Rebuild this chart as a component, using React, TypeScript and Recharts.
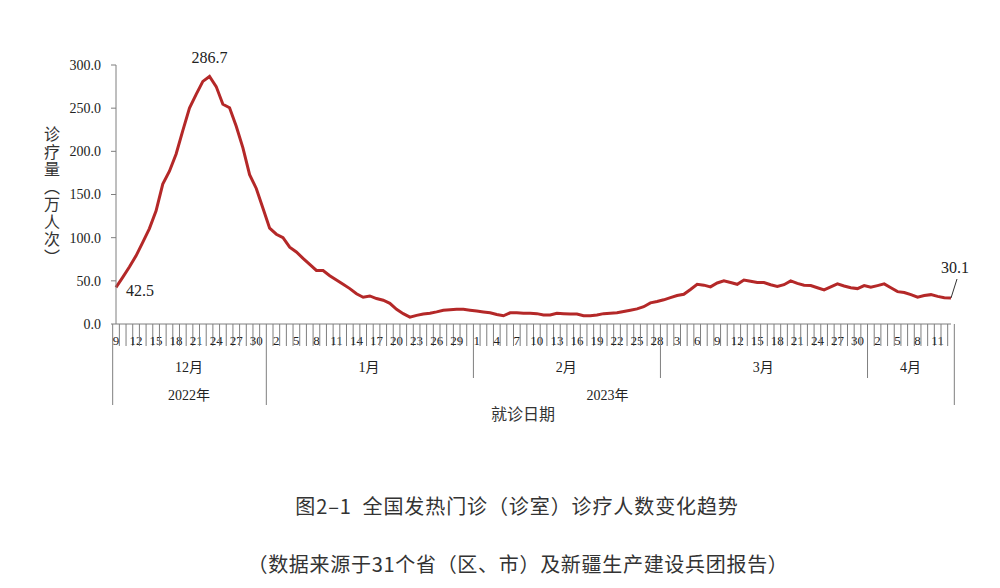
import { ComposedChart, Line, XAxis, YAxis } from 'recharts'

// 2022-12-09 .. 2023-04-13, one value per day (万人次)
const MONTH_NAMES = ['12月', '1月', '2月', '3月', '4月']
const MONTH_YEAR = ['2022年', '2023年', '2023年', '2023年', '2023年']
const MONTH_FIRST_DAY = [9, 1, 1, 1, 1]
const MONTH_LENGTH = [23, 31, 28, 31, 13]

const DEC_VALUES = [
  42.5, 54, 66, 79, 94.5, 110.5, 131, 162, 177, 197, 224, 250, 266, 281, 286.7, 275, 254.5, 250.5,
  229, 204, 173, 157, 134,
]
const JAN_VALUES = [
  111, 104, 100, 89, 83.5, 76, 69, 62, 62, 56, 51, 46, 41, 35, 31, 32.5, 29.5, 27.5, 24, 17, 12, 8,
  10, 11.5, 12.4, 14, 16, 16.5, 17, 17, 16,
]
const FEB_VALUES = [
  15, 14, 13, 11, 9.5, 13, 13, 12.5, 12.5, 12, 10.5, 10.5, 12.5, 12, 11.5, 11.5, 9.5, 9.5, 10.5, 12,
  12.5, 13, 14.5, 16, 17.5, 20, 24.5, 26,
]
const MAR_VALUES = [
  28, 30.5, 33, 34.5, 40, 46, 45, 43, 47.5, 50, 48, 46, 51, 49.5, 48, 48, 45.5, 43.5, 45.5, 50, 47,
  45, 44.5, 42, 39.5, 43, 46.5, 44, 42, 41, 44.5,
]
const APR_VALUES = [42.5, 44.5, 46.5, 42, 37.5, 36.5, 34, 31, 33, 34, 32, 30.5, 30.1]

const Y_TICKS = [0, 50, 100, 150, 200, 250, 300]
const LABELLED = [0, 14, 125]

const MONTH_VALUES = [DEC_VALUES, JAN_VALUES, FEB_VALUES, MAR_VALUES, APR_VALUES]

type Row = { key: string; day: number; month: number; value: number }
const data: Row[] = []
MONTH_VALUES.forEach((vals, m) => {
  for (let k = 0; k < MONTH_LENGTH[m]; k++) {
    data.push({ key: `${m}-${MONTH_FIRST_DAY[m] + k}`, day: MONTH_FIRST_DAY[m] + k, month: m, value: vals[k] })
  }
})
const KEYS = data.map((d) => d.key)
const MONTH_START = MONTH_LENGTH.map((_, m) => MONTH_LENGTH.slice(0, m).reduce((a, b) => a + b, 0))

const PLOT_W = 835
const BAND = PLOT_W / data.length
const AXIS = '#7f7f7f'
const SERIF = '"Liberation Serif", "Noto Sans CJK SC", serif'
const SANS = '"Noto Sans CJK SC", "Noto Sans", sans-serif'

function DateTick(props: any) {
  const { x, y, payload } = props
  const i = KEYS.indexOf(payload.value)
  if (i < 0) return null
  const row = data[i]
  const left = x - BAND / 2
  const m = row.month
  const isMonthStart = MONTH_START[m] === i
  const isYearStart = isMonthStart && (m === 0 || MONTH_YEAR[m] !== MONTH_YEAR[m - 1])
  const last = i === data.length - 1
  const items = []

  items.push(<line key="t" x1={left} x2={left} y1={y} y2={y + 22} stroke={AXIS} />)
  if (i % 3 === 0) {
    items.push(
      <text key="d" x={x} y={y + 21} textAnchor="middle" fontSize={13} fontFamily={SERIF} fill="#222">
        {row.day}
      </text>
    )
  }
  if (isMonthStart) {
    items.push(
      <line key="ms" x1={left} x2={left} y1={y + 22} y2={isYearStart ? y + 81 : y + 54} stroke={AXIS} />
    )
    items.push(
      <text
        key="ml"
        x={left + (MONTH_LENGTH[m] * BAND) / 2}
        y={y + 48}
        textAnchor="middle"
        fontSize={14}
        fontFamily={SERIF}
        fill="#222"
      >
        {MONTH_NAMES[m]}
      </text>
    )
  }
  if (isYearStart) {
    let len = 0
    for (let k = m; k < MONTH_NAMES.length && MONTH_YEAR[k] === MONTH_YEAR[m]; k++) len += MONTH_LENGTH[k]
    items.push(
      <text key="yl" x={left + (len * BAND) / 2} y={y + 76} textAnchor="middle" fontSize={14} fontFamily={SERIF} fill="#222">
        {MONTH_YEAR[m]}
      </text>
    )
  }
  if (last) {
    items.push(<line key="re" x1={x + BAND / 2} x2={x + BAND / 2} y1={y} y2={y + 81} stroke={AXIS} />)
  }
  return <g>{items}</g>
}

function PointLabel(props: any) {
  const { x, y, index, value } = props
  if (!LABELLED.includes(index)) return null
  const text = Number(value).toFixed(1)
  const style = { fontSize: 16, fontFamily: SERIF, fill: '#222' }
  if (index === 0) {
    return (
      <text x={x + 10} y={y + 9} {...style}>
        {text}
      </text>
    )
  }
  if (index === data.length - 1) {
    return (
      <g>
        <line x1={x} y1={y} x2={x + 6} y2={y - 19} stroke="#333" strokeWidth={1} />
        <text x={x + 4} y={y - 25} textAnchor="middle" {...style}>
          {text}
        </text>
      </g>
    )
  }
  return (
    <text x={x} y={y - 13} textAnchor="middle" {...style}>
      {text}
    </text>
  )
}

export default function App() {
  return (
    <div style={{ position: 'absolute', left: 0, top: 0, width: 1000, height: 588, background: '#fff' }}>
      <ComposedChart width={1000} height={420} data={data} margin={{ top: 65, right: 49, bottom: 0, left: 56 }}>
        <XAxis
          dataKey="key"
          interval={0}
          height={96}
          tickLine={false}
          tickSize={0}
          tickMargin={0}
          axisLine={{ stroke: AXIS }}
          tick={<DateTick />}
        />
        <YAxis
          width={60}
          domain={[0, 300]}
          ticks={Y_TICKS}
          tickFormatter={(v: number) => v.toFixed(1)}
          tick={{ fontSize: 14, fill: '#222', fontFamily: SERIF }}
          tickSize={5}
          tickMargin={10}
          axisLine={{ stroke: AXIS }}
          tickLine={{ stroke: AXIS }}
        />
        <Line
          type="linear"
          dataKey="value"
          stroke="#B42828"
          strokeWidth={3}
          dot={false}
          isAnimationActive={false}
          label={<PointLabel />}
        />
      </ComposedChart>
      <div
        style={{
          position: 'absolute',
          left: 44,
          top: 126,
          writingMode: 'vertical-rl',
          fontFamily: SANS,
          fontSize: 16,
          lineHeight: '16px',
          letterSpacing: 1.5,
          color: '#333',
        }}
      >
        诊疗量（万人次）
      </div>
      <div
        style={{
          position: 'absolute',
          left: 523,
          top: 401,
          transform: 'translateX(-50%)',
          fontFamily: SANS,
          fontSize: 16,
          color: '#333',
          whiteSpace: 'nowrap',
        }}
      >
        就诊日期
      </div>
      <div
        style={{
          position: 'absolute',
          left: 517,
          top: 491,
          transform: 'translateX(-50%)',
          fontFamily: SANS,
          fontSize: 20,
          letterSpacing: 0.9,
          color: '#333',
          whiteSpace: 'pre',
        }}
      >
        图2–1  全国发热门诊（诊室）诊疗人数变化趋势
      </div>
      <div
        style={{
          position: 'absolute',
          left: 518,
          top: 549,
          transform: 'translateX(-50%)',
          fontFamily: SANS,
          fontSize: 20,
          letterSpacing: 0.7,
          color: '#333',
          whiteSpace: 'nowrap',
        }}
      >
        （数据来源于31个省（区、市）及新疆生产建设兵团报告）
      </div>
    </div>
  )
}
